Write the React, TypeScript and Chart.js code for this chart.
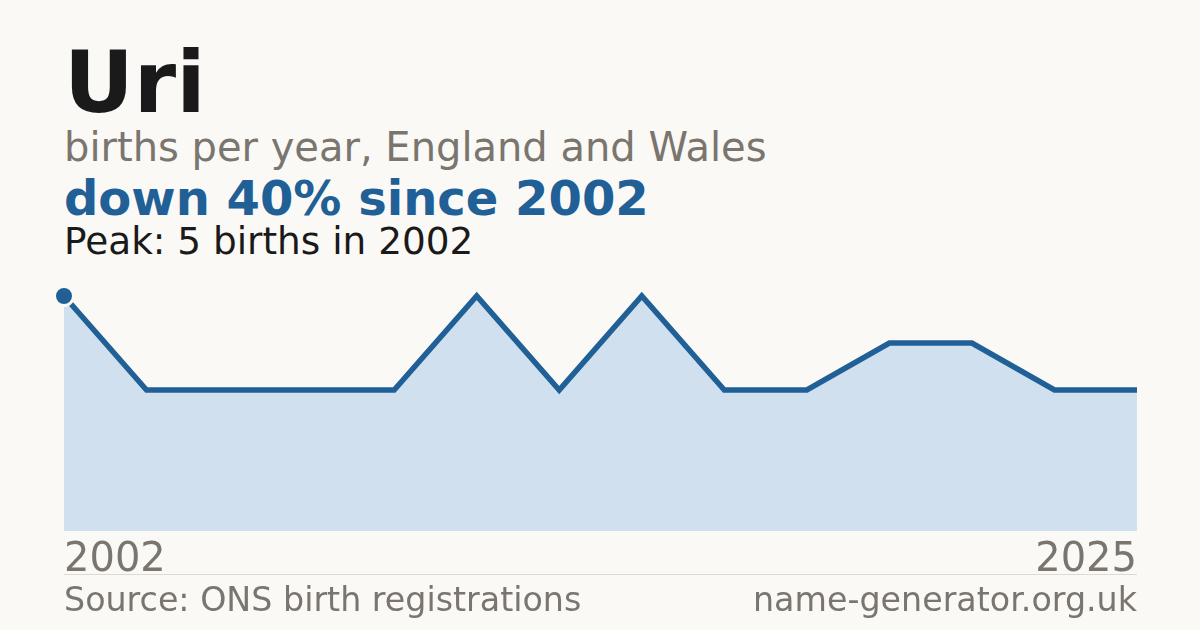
import React, { useEffect, useRef } from "react";
import { Chart, registerables } from "chart.js";

Chart.register(...registerables);

// years with a recorded count (only first and last are labelled)
const years: string[] = [
  "2002", "2004", "2006", "2008", "2009", "2011", "2013",
  "2015", "2016", "2018", "2020", "2021", "2023", "2025"
];
const births: number[] = [5, 3, 3, 3, 3, 5, 3, 5, 3, 3, 4, 4, 3, 3];
const yMin = 0;
const yMax = 5;

const BG = "#faf9f5";
const BLUE = "#206096";
const FILL = "#d0e0ef";
const GREY = "#7a756e";
const INK = "#1a1a1a";
const FONT = "'DejaVu Sans', sans-serif";

const BirthsChart: React.FC = () => {
  const chartRef = useRef<HTMLCanvasElement>(null);
  const chartInstance = useRef<Chart>();

  useEffect(() => {
    if (!chartRef.current) return;
    const ctx = chartRef.current.getContext("2d");
    if (!ctx) return;
    if (chartInstance.current) chartInstance.current.destroy();
    const last = years.length - 1;
    chartInstance.current = new Chart(ctx, {
      type: "line",
      data: {
        labels: years,
        datasets: [
          {
            data: births,
            borderColor: BLUE,
            borderWidth: 5.5,
            backgroundColor: FILL,
            fill: "origin",
            tension: 0,
            clip: false,
            pointRadius: (c: any) => (c.dataIndex === 0 ? 9.5 : 0),
            pointHoverRadius: 0,
            pointBorderWidth: 3,
            pointBorderColor: BG,
            pointBackgroundColor: BLUE
          }
        ]
      },
      options: {
        animation: false,
        responsive: true,
        maintainAspectRatio: false,
        events: [],
        layout: { padding: { left: 20, right: 20, top: 20, bottom: 0 } },
        plugins: { legend: { display: false }, tooltip: { enabled: false } },
        scales: {
          x: {
            offset: false,
            grid: { display: false, drawTicks: false },
            border: { display: false },
            ticks: {
              autoSkip: false,
              maxRotation: 0,
              align: "inner",
              padding: 6,
              color: GREY,
              font: { family: FONT, size: 40 },
              callback: (_v: any, i: number) => (i === 0 || i === last ? years[i] : "")
            }
          },
          y: { display: false, min: yMin, max: yMax }
        }
      }
    });
    return () => {
      if (chartInstance.current) chartInstance.current.destroy();
    };
  }, []);

  return <canvas ref={chartRef} />;
};

const txt = (top: number, size: number, color: string, bold = false): React.CSSProperties => ({
  position: "absolute",
  left: 64,
  top,
  fontFamily: FONT,
  fontSize: size,
  fontWeight: bold ? 700 : 400,
  lineHeight: 1,
  color,
  whiteSpace: "nowrap"
});

export default function App() {
  return (
    <div style={{ position: "fixed", left: 0, top: 0, width: 1200, height: 630, background: BG, overflow: "hidden" }}>
      <div style={txt(39, 86, INK, true)}>Uri</div>
      <div style={txt(126.7, 40, GREY)}>births per year, England and Wales</div>
      <div style={txt(174, 48, BLUE, true)}>down 40% since 2002</div>
      <div style={txt(222.9, 37.4, INK)}>Peak: 5 births in 2002</div>
      <div style={{ position: "absolute", left: 44, top: 276, width: 1113, height: 315 }}>
        <BirthsChart />
      </div>
      <div style={{ position: "absolute", left: 64, top: 574, width: 1073, height: 1, background: "#dedad3" }} />
      <div style={txt(582.6, 33.3, GREY)}>Source: ONS birth registrations</div>
      <div style={{ ...txt(582.6, 33.3, GREY), left: "auto", right: 63 }}>name-generator.org.uk</div>
    </div>
  );
}
